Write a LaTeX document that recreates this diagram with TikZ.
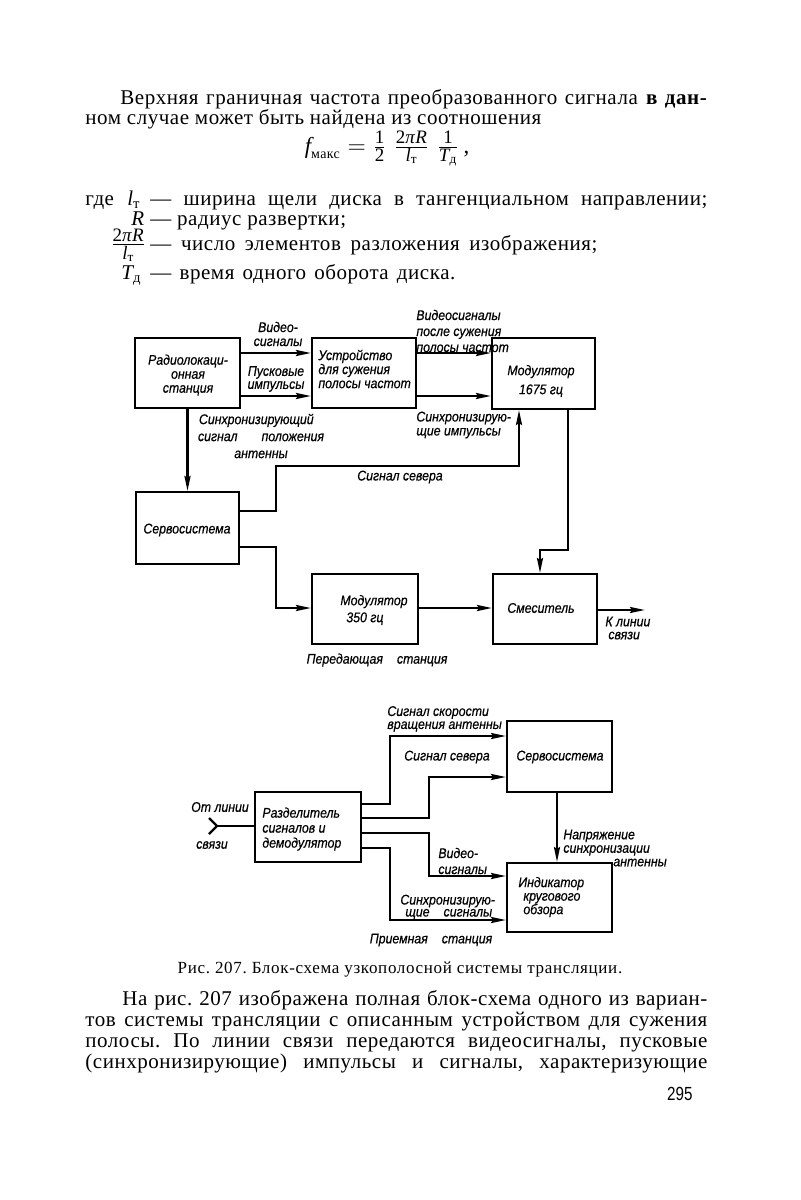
\documentclass[tikz,border=0pt]{standalone}
\usepackage{fontspec}
\usepackage{amsmath}
\setmainfont{Liberation Serif}[LetterSpace=2.6]
\newfontfamily\dfont{Liberation Sans}[FakeStretch=0.88,FakeBold=0.4]
\newfontfamily\pgfont{Liberation Sans}[FakeStretch=0.8]
\newcommand\fsm[1]{\text{\fontsize{9.5}{9.5}\selectfont #1}}
\newcommand\fsub[1]{\text{\fontsize{7}{7}\selectfont #1}}
\frenchspacing
\usetikzlibrary{arrows.meta}
\begin{document}
\begin{tikzpicture}[x=0.5pt,y=-0.5pt,
  box/.style={draw, line width=1pt, inner sep=0pt, anchor=center},
  ln/.style={line width=1.2pt},
  arr/.style={ln, -{Stealth[length=7.5pt,width=3pt,inset=1pt]}},
  lbl/.style={font=\dfont\itshape\fontsize{7}{7}\selectfont, inner sep=0pt, align=center},
  lbll/.style={lbl, align=left, anchor=west},
  body/.style={font=\fontsize{10.5}{12}\selectfont, inner sep=0pt, anchor=base west},
]
\fill[white] (0,0) rectangle (800,1200);
\useasboundingbox (0,0) rectangle (800,1200);

% ---------- top text ----------
\node[body] (t1) at (120,104) {\makebox[293.5pt][s]{Верхняя граничная частота преобразованного сигнала \textbf{в дан-}}};
\node[body] (t2) at (85,124) {ном случае может быть найдена из соотношения};
\node[body, anchor=base, font=\fontsize{11.5}{12}\selectfont] (frm) at (387,153) {$\textit{f}_{\fsub{макс}} = \tfrac{\fsm{1}}{\fsm{2}}\;\tfrac{\fsm{2\textit{πR}}}{\fsm{$\textit{l}_{\text{т}}$}}\;\tfrac{\fsm{1}}{\fsm{$\textit{T}_{\text{д}}$}}$\,,};
\node[body] (w0) at (85,205) {где};
\node[body] (w1s) at (127,205) {$\textit{l}_{\text{т}}$};
\node[body] (w1) at (150,205) {\makebox[278.5pt][s]{— ширина щели диска в тангенциальном направлении;}};
\node[body] (w2s) at (131,225) {\textit{R}};
\node[body] (w2) at (150,225) {— радиус развертки;};
\node[body, anchor=base east] (w3s) at (147,250) {$\tfrac{\fsm{2\textit{πR}}}{\fsm{$\textit{l}_{\text{т}}$}}$};
\node[body] (w3) at (150,250) {\makebox[223.5pt][s]{— число элементов разложения изображения;}};
\node[body] (w4s) at (121,279) {$\textit{T}_{\text{д}}$};
\node[body] (w4) at (150,279) {\makebox[152.5pt][s]{— время одного оборота диска.}};

% ---------- top diagram ----------
\node[box, minimum width=52.5pt, minimum height=35pt] (rls) at (187.5,373) {};
\node[box, minimum width=52pt, minimum height=35pt] (ust) at (364,373) {};
\node[box, minimum width=51.5pt, minimum height=35.5pt] (mod1) at (543.5,373.5) {};
\node[box, minimum width=51.5pt, minimum height=36pt] (serv1) at (187.5,528) {};
\node[box, minimum width=53pt, minimum height=35pt] (mod2) at (365,609) {};
\node[box, minimum width=52pt, minimum height=35pt] (mix) at (545,609) {};

\node[lbl] (rlsT) at (188,375) {Радиолокаци-\\онная\\станция};
\node[lbll] (ustT) at (318,369) {Устройство\\для сужения\\полосы частот};
\node[lbl, font=\dfont\itshape\fontsize{7}{9.5}\selectfont] (mod1T) at (541,381) {Модулятор\\1675 гц};
\node[lbl] (servT1) at (187,530) {Сервосистема};
\node[lbll, font=\dfont\itshape\fontsize{7}{8.5}\selectfont] (mod2T) at (340,610) {Модулятор\\\hspace*{3pt}350 гц};
\node[lbl] (mixT) at (541,608) {Смеситель};

\node[lbl] (L1) at (278,334) {Видео-\\сигналы};
\node[lbl, font=\dfont\itshape\fontsize{7}{6.5}\selectfont] (L2) at (276,379) {Пусковые\\импульсы};
\node[lbll, font=\dfont\itshape\fontsize{7}{8}\selectfont] (L3) at (416,331) {Видеосигналы\\после сужения\\полосы частот};
\node[lbll] (L4) at (416,425) {Синхронизирую-\\щие импульсы};
\node[lbl, font=\dfont\itshape\fontsize{7}{8.5}\selectfont] (L5) at (261,436) {\makebox[62pt][s]{Синхронизирующий}\\\makebox[63pt][s]{сигнал положения}\\антенны};
\node[lbl] (L6) at (400,477) {Сигнал севера};
\node[lbll, font=\dfont\itshape\fontsize{7}{6.5}\selectfont] (L7) at (605,628) {К линии\\\hspace*{1.5pt}связи};
\node[lbl] (L8) at (377,660) {Передающая\quad станция};

\coordinate (y353) at (0,353);
\coordinate (y396) at (0,396);
\coordinate (out) at (645,610);

\draw[arr] (rls.east |- y353) -- (ust.west |- y353);
\draw[arr] (rls.east |- y396) -- (ust.west |- y396);
\draw[arr] (ust.east |- y353) -- (mod1.west |- y353);
\draw[arr] (ust.east |- y396) -- (mod1.west |- y396);
\draw[arr] (rls.south) -- (serv1.north);
\draw[arr] (serv1.east |- 0,511) -- (276,511) -- (276,466) -- (519,466) -- (mod1.south -| 519,0);
\draw[arr] (serv1.east |- 0,547) -- (276,547) -- (276,608) -- (mod2.west |- 0,608);
\draw[arr] (mod2.east |- 0,608) -- (mix.west |- 0,608);
\draw[arr] (mod1.south -| 568,0) -- (568,550) -- (540,550) -- (mix.north -| 540,0);
\draw[arr] (mix.east |- out) -- (out);

% ---------- bottom diagram ----------
\node[box, minimum width=53pt, minimum height=35pt] (sep) at (308,827) {};
\node[box, minimum width=52.5pt, minimum height=35.5pt] (serv2) at (559.5,756.5) {};
\node[box, minimum width=52.5pt, minimum height=34.5pt] (ind) at (559.5,897.5) {};

\node[lbll, font=\dfont\itshape\fontsize{7}{7.5}\selectfont] (sepT) at (262,829) {Разделитель\\сигналов и\\демодулятор};
\node[lbl] (servT2) at (560,757) {Сервосистема};
\node[lbll, font=\dfont\itshape\fontsize{7}{6.75}\selectfont] (indT) at (518,897) {Индикатор\\\hspace*{2.5pt}кругового\\\hspace*{2.5pt}обзора};

\node[lbl] (B1) at (220,807) {От линии};
\node[lbl] (B2) at (212,845) {связи};
\node[lbll, font=\dfont\itshape\fontsize{7}{6.5}\selectfont] (B3) at (387,719) {Сигнал скорости\\вращения антенны};
\node[lbl] (B4) at (447,757) {Сигнал севера};
\node[lbll, font=\dfont\itshape\fontsize{7}{8}\selectfont] (B5) at (438,861) {Видео-\\сигналы};
\node[lbll, font=\dfont\itshape\fontsize{7}{6}\selectfont] (B6) at (400,907) {Синхронизирую-\\\hspace*{2.5pt}щие\quad сигналы};
\node[lbll, font=\dfont\itshape\fontsize{7}{6.75}\selectfont] (B7) at (563,848) {Напряжение\\синхронизации\\\hspace*{25pt}антенны};
\node[lbl] (B8) at (431,940) {Приемная\quad станция};

\coordinate (inp) at (217,826);
\draw[ln] (209,818) -- (inp) -- (209,834);
\draw[ln] (inp) -- (sep.west |- inp);
\draw[arr] (sep.east |- 0,804) -- (390,804) -- (390,736) -- (serv2.west |- 0,736);
\draw[arr] (sep.east |- 0,818) -- (429,818) -- (429,777) -- (serv2.west |- 0,777);
\draw[arr] (sep.east |- 0,833) -- (429,833) -- (429,876) -- (ind.west |- 0,876);
\draw[arr] (sep.east |- 0,848) -- (390,848) -- (390,920) -- (ind.west |- 0,920);
\draw[arr] (serv2.south -| 557,0) -- (ind.north -| 557,0);

% ---------- caption and bottom text ----------
\node[font=\fontsize{8.5}{10}\selectfont\addfontfeature{LetterSpace=4}, inner sep=0pt, anchor=base] (cap) at (400,973) {Рис. 207. Блок-схема узкополосной системы трансляции.};
\node[body] (b1) at (122,1005) {\makebox[292.5pt][s]{На рис. 207 изображена полная блок-схема одного из вариан-}};
\node[body] (b2) at (85,1026) {\makebox[311pt][s]{тов системы трансляции с описанным устройством для сужения}};
\node[body] (b3) at (85,1047) {\makebox[311pt][s]{полосы. По линии связи передаются видеосигналы, пусковые}};
\node[body] (b4) at (85,1068) {\makebox[311pt][s]{(синхронизирующие) импульсы и сигналы, характеризующие}};
\node[body, anchor=base east, font=\pgfont\fontsize{9.5}{10}\selectfont] (pg) at (693,1100) {295};
\end{tikzpicture}
\end{document}
